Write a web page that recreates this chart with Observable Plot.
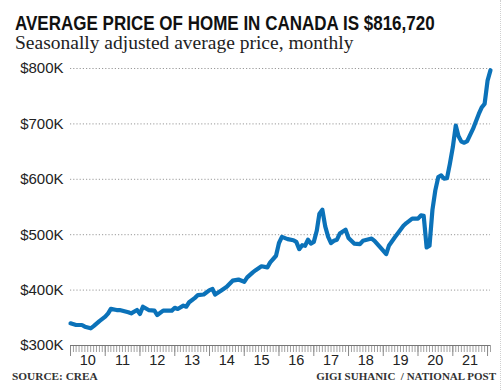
<!DOCTYPE html>
<html><head><meta charset="utf-8">
<script src="https://cdn.jsdelivr.net/npm/d3@7"></script>
<script src="https://cdn.jsdelivr.net/npm/@observablehq/plot@0.6"></script>
<style>
body{margin:0;background:#fff;}
#wrap{position:relative;width:503px;height:390px;overflow:hidden;background:#fff;}
#title{position:absolute;left:15px;top:12px;line-height:1;font-family:"Liberation Sans",Arial,sans-serif;font-weight:bold;font-size:21px;color:#111;white-space:nowrap;transform:scaleX(0.81);transform-origin:0 0;}
#sub{position:absolute;left:15px;top:33px;line-height:1;font-family:"Liberation Serif",serif;font-size:19.5px;color:#222;white-space:nowrap;}
#chart{position:absolute;left:0;top:56px;}
.foot{position:absolute;top:371px;line-height:1;font-family:"Liberation Serif",serif;font-weight:bold;font-size:11px;color:#333;white-space:pre;}
#src{left:12px;font-size:11.3px;}
#credit{right:7px;}
#edge{position:absolute;left:500px;top:0;height:390px;border-left:1px dotted #d0d0d0;}
</style></head>
<body>
<div id="wrap">
  <div id="title">AVERAGE PRICE OF HOME IN CANADA IS $816,720</div>
  <div id="sub">Seasonally adjusted average price, monthly</div>
  <div id="chart"></div>
  <div id="src" class="foot">SOURCE: CREA</div>
  <div id="credit" class="foot">GIGI SUHANIC  / NATIONAL POST</div>
  <div id="edge"></div>
</div>
<script>
// Months (YYYY-MM) and seasonally adjusted average price, in thousands of dollars
const months = [
"2010-01","2010-03","2010-05","2010-06","2010-08","2010-09","2010-11",
"2011-01","2011-02","2011-03","2011-05","2011-06","2011-09","2011-10","2011-12",
"2012-01","2012-02","2012-04","2012-06","2012-07","2012-09","2012-12",
"2013-01","2013-02","2013-04","2013-05","2013-06","2013-08","2013-09","2013-11",
"2014-01","2014-02","2014-03","2014-05","2014-07","2014-09","2014-11",
"2015-01","2015-02","2015-04","2015-05","2015-07","2015-09","2015-10","2015-12",
"2016-01","2016-02","2016-04","2016-06","2016-07","2016-08","2016-09","2016-10","2016-11","2016-12",
"2017-01","2017-02","2017-03","2017-04","2017-05","2017-06","2017-07","2017-08","2017-09","2017-10","2017-12",
"2018-01","2018-03","2018-05","2018-06","2018-09","2018-10","2018-12",
"2019-02","2019-03","2019-05","2019-07","2019-08","2019-09","2019-11",
"2020-01","2020-02","2020-03","2020-04","2020-05","2020-06","2020-07","2020-08","2020-09","2020-10","2020-11","2020-12",
"2021-01","2021-02","2021-03","2021-04","2021-05","2021-06","2021-08","2021-10","2021-11","2021-12",
"2022-01","2022-02"];
const prices = [
340,337,337,334,331,335,344,
352,358,366,364,364,360,358,364,
357,370,364,363,355,363,363,
368,366,372,370,378,386,391,392,
400,402,392,399,406,417,419,
415,423,432,436,443,441,450,462,
485,496,492,490,487,474,481,480,491,484,
487,507,538,545,515,496,485,489,491,502,509,
494,484,483,489,493,489,477,
465,480,495,509,516,521,529,
529,535,534,477,480,545,580,604,607,601,602,628,
658,697,678,668,666,669,691,718,730,736,
778,797];

const yTicks = [300,400,500,600,700,800];
const gridTicks = [400,500,600,700,800];
const years = [2010,2011,2012,2013,2014,2015,2016,2017,2018,2019,2020,2021];
const yearLabels = ["10","11","12","13","14","15","16","17","18","19","20","21"];

const data = months.map((m,i) => ({date: new Date(m + "-01T00:00:00Z"), price: prices[i]}));
const start = data[0].date, end = data[data.length-1].date;
const monthTicks = d3.utcMonth.range(start, d3.utcMonth.offset(end, 1));
const yearTicks = d3.utcYear.range(start, end);
const midYears = years.map(y => new Date(Date.UTC(y, 6, 1)));

const chart = Plot.plot({
  width: 503,
  height: 316,
  marginLeft: 70,
  marginRight: 13,
  marginTop: 12,
  marginBottom: 27,
  style: {fontFamily: "'Liberation Sans', Arial, sans-serif", fontSize: "15px", color: "#222", background: "white"},
  x: {type: "utc", domain: [start, end]},
  y: {domain: [300, 800]},
  marks: [
    Plot.gridY(gridTicks, {stroke: "#9a9a9a", strokeOpacity: 1, strokeDasharray: "1.2,2", strokeWidth: 1}),
    Plot.axisY({ticks: yTicks, tickSize: 0, tickPadding: 7, tickFormat: d => `$${d}K`, fontSize: 15, label: null}),
    Plot.axisX({ticks: monthTicks, tickSize: 7, tickFormat: () => "", stroke: "#8a8a8a", strokeWidth: 0.8, label: null}),
    Plot.axisX({ticks: yearTicks, tickSize: 11, tickFormat: () => "", stroke: "#8a8a8a", strokeWidth: 1, label: null}),
    Plot.axisX({ticks: midYears, tickSize: 0, tickPadding: 9, tickFormat: d => yearLabels[years.indexOf(d.getUTCFullYear())], fontSize: 14.5, label: null}),
    Plot.ruleY([300], {stroke: "#777", strokeWidth: 1.2}),
    Plot.line(data, {x: "date", y: "price", stroke: "#0b72b9", strokeWidth: 4.2, strokeLinejoin: "round", strokeLinecap: "round"})
  ]
});
document.getElementById("chart").appendChild(chart);
</script>
</body></html>
